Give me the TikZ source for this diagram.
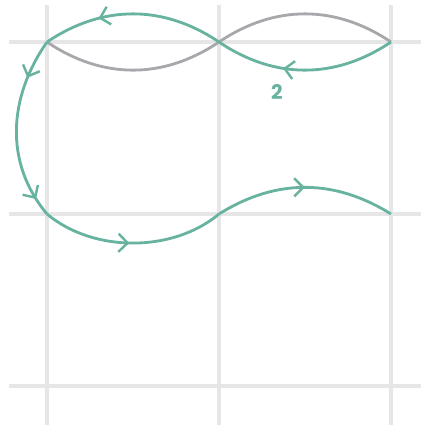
\documentclass[tikz,border=0pt]{standalone}
\usepackage{fontspec}
\setsansfont{Poppins}
\usepackage{tikz}
\usetikzlibrary{arrows.meta, decorations.markings}
\definecolor{gridgray}{RGB}{230,230,230}
\definecolor{pathgreen}{RGB}{104,178,160}
\definecolor{pathgray}{RGB}{168,168,172}
\tikzstyle{gridline} = [draw=gridgray, line width=1.6pt]
\tikzstyle{strand} = [draw=pathgreen, line width=1.4pt]
\tikzstyle{ghost} = [draw=pathgray, line width=1.4pt]
\tikzstyle{lbl} = [text=pathgreen, font=\sffamily\bfseries]
\tikzset{barb at/.style={postaction={decorate,
  decoration={markings, mark=at position #1 with
  {\arrow[pathgreen, line width=1.2pt]{Straight Barb[length=4.5pt, width=9pt]}}}}}}

\begin{document}
\begin{tikzpicture}
\useasboundingbox (-0.820,-0.733) rectangle (6.541,6.733);
% grid
\foreach \k in {0,3,6} {
  \draw[gridline] (-0.663,\k) -- (6.52,\k);
  \draw[gridline] (\k,-0.68) -- (\k,6.645);
}
% crossings
\coordinate (a) at (0,6);
\coordinate (b) at (3,6);
\coordinate (c) at (6,6);
\coordinate (d) at (0,3);
\coordinate (e) at (3,3);
\coordinate (f) at (6,3);

\draw[ghost] (a) to[bend right=34] (b);
\draw[ghost] (b) to[bend left=34] (c);

\draw[strand, barb at=0.69] (b) to[bend right=34] (a);
\draw[strand, barb at=0.22, barb at=0.9] (a) to[out=235, in=130] (d);
\draw[strand, barb at=0.48] (d) to[out=-40, in=220, looseness=0.9] (e);
\draw[strand, barb at=0.5] (e) to[bend left=32] (f);
\draw[strand, barb at=0.62] (c) to[bend left=34] (b);

\node[lbl] (two) at (4.01,5.13) {2};
\end{tikzpicture}
\end{document}
